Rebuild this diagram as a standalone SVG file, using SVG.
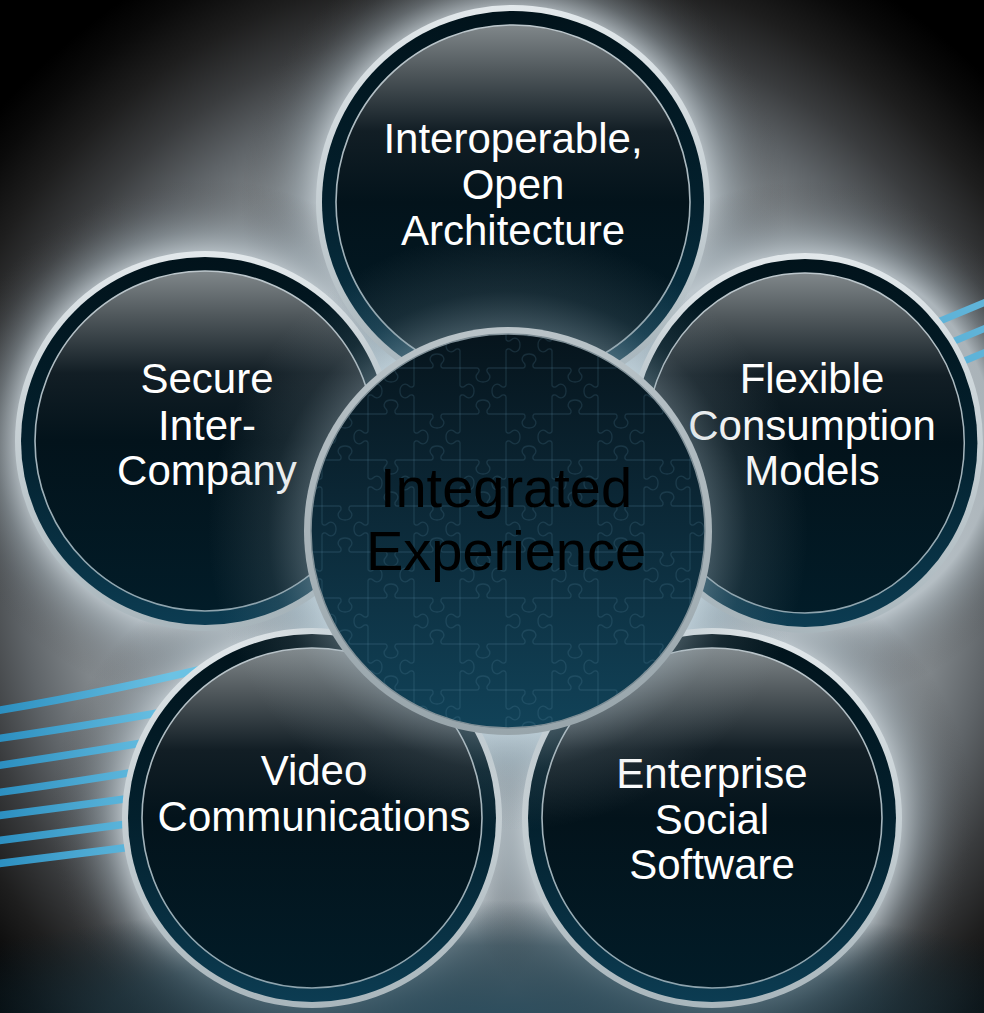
<svg xmlns="http://www.w3.org/2000/svg" width="984" height="1013" viewBox="0 0 984 1013">
<defs>
  <radialGradient id="bgGrad" gradientUnits="userSpaceOnUse" cx="508" cy="560" r="680">
    <stop offset="0" stop-color="#aab4ba"/>
    <stop offset="0.55" stop-color="#9aa2a8"/>
    <stop offset="0.64" stop-color="#80868a"/>
    <stop offset="0.72" stop-color="#5e6367"/>
    <stop offset="0.8" stop-color="#3a3c3e"/>
    <stop offset="0.88" stop-color="#1e1e1e"/>
    <stop offset="0.95" stop-color="#0a0a0a"/>
    <stop offset="1" stop-color="#000"/>
  </radialGradient>
  <radialGradient id="haloGrad" cx="0.5" cy="0.5" r="0.5">
    <stop offset="0.72" stop-color="#c0cad0" stop-opacity="0.8"/>
    <stop offset="0.8" stop-color="#9aa6ad" stop-opacity="0.45"/>
    <stop offset="0.9" stop-color="#6a7277" stop-opacity="0.18"/>
    <stop offset="1" stop-color="#444" stop-opacity="0"/>
  </radialGradient>
  <radialGradient id="cHalo" gradientUnits="userSpaceOnUse" cx="508" cy="531" r="300">
    <stop offset="0.66" stop-color="#cfe0e9" stop-opacity="0.9"/>
    <stop offset="0.76" stop-color="#a6bcc8" stop-opacity="0.55"/>
    <stop offset="0.88" stop-color="#8a9aa4" stop-opacity="0.2"/>
    <stop offset="1" stop-color="#8a9aa4" stop-opacity="0"/>
  </radialGradient>
  <radialGradient id="sheen" gradientUnits="userSpaceOnUse" cx="508" cy="531" r="300">
    <stop offset="0.66" stop-color="#a8bac4" stop-opacity="0.4"/>
    <stop offset="0.8" stop-color="#8e9ea6" stop-opacity="0.15"/>
    <stop offset="1" stop-color="#8e9ea6" stop-opacity="0"/>
  </radialGradient>
  <linearGradient id="ringGrad" x1="0" y1="0" x2="0" y2="1">
    <stop offset="0" stop-color="#e2e8eb"/>
    <stop offset="1" stop-color="#a9b6bc"/>
  </linearGradient>
  <linearGradient id="bandGrad" x1="0" y1="0" x2="0" y2="1">
    <stop offset="0" stop-color="#01131b"/>
    <stop offset="0.5" stop-color="#03202d"/>
    <stop offset="1" stop-color="#0c3c52"/>
  </linearGradient>
  <linearGradient id="lineGrad" x1="0" y1="0" x2="0" y2="1">
    <stop offset="0" stop-color="#bcc6cb"/>
    <stop offset="1" stop-color="#8ea4ae"/>
  </linearGradient>
  <linearGradient id="innerGrad" x1="0" y1="0" x2="0" y2="1">
    <stop offset="0" stop-color="#80878a"/>
    <stop offset="0.13" stop-color="#50585c"/>
    <stop offset="0.3" stop-color="#121e25"/>
    <stop offset="0.5" stop-color="#03131b"/>
    <stop offset="1" stop-color="#021c28"/>
  </linearGradient>
  <linearGradient id="cRingGrad" x1="0" y1="0" x2="0" y2="1">
    <stop offset="0" stop-color="#b9c3c8"/>
    <stop offset="1" stop-color="#98a5ab"/>
  </linearGradient>
  <linearGradient id="cInnerGrad" x1="0" y1="0" x2="0" y2="1">
    <stop offset="0" stop-color="#06141c"/>
    <stop offset="0.4" stop-color="#0b2634"/>
    <stop offset="1" stop-color="#114258"/>
  </linearGradient>
  <linearGradient id="stripeL" gradientUnits="userSpaceOnUse" x1="0" y1="0" x2="170" y2="0">
    <stop offset="0" stop-color="#2c8fc0"/>
    <stop offset="1" stop-color="#6cc2e4"/>
  </linearGradient>
  <radialGradient id="tealGrad" cx="0.5" cy="1" r="0.65">
    <stop offset="0" stop-color="#26495a" stop-opacity="0.9"/>
    <stop offset="0.6" stop-color="#1c3a48" stop-opacity="0.6"/>
    <stop offset="1" stop-color="#0d2530" stop-opacity="0"/>
  </radialGradient>
  <pattern id="puzzle" patternUnits="userSpaceOnUse" width="92" height="92" x="0" y="0">
    <g fill="none" stroke="#5a8ea6" stroke-opacity="0.2" stroke-width="1.3">
      <path d="M0,0 H17 C19,0 20,3 18,5 C14,9 17,14 23,14 C29,14 32,9 28,5 C26,3 27,0 29,0 H63 C65,0 66,-3 64,-5 C60,-9 63,-14 69,-14 C75,-14 78,-9 74,-5 C72,-3 73,0 75,0 H92"/>
      <path d="M0,46 H17 C19,46 20,43 18,41 C14,37 17,32 23,32 C29,32 32,37 28,41 C26,43 27,46 29,46 H63 C65,46 66,49 64,51 C60,55 63,60 69,60 C75,60 78,55 74,51 C72,49 73,46 75,46 H92"/>
      <path d="M0,92 H17 C19,92 20,95 18,97 C14,101 17,106 23,106 C29,106 32,101 28,97 C26,95 27,92 29,92 H63 C65,92 66,89 64,87 C60,83 63,78 69,78 C75,78 78,83 74,87 C72,89 73,92 75,92 H92"/>
      <path d="M0,0 V17 C0,19 3,20 5,18 C9,14 14,17 14,23 C14,29 9,32 5,28 C3,26 0,27 0,29 V63 C0,65 -3,66 -5,64 C-9,60 -14,63 -14,69 C-14,75 -9,78 -5,74 C-3,72 0,73 0,75 V92"/>
      <path d="M46,0 V17 C46,19 43,20 41,18 C37,14 32,17 32,23 C32,29 37,32 41,28 C43,26 46,27 46,29 V63 C46,65 49,66 51,64 C55,60 60,63 60,69 C60,75 55,78 51,74 C49,72 46,73 46,75 V92"/>
      <path d="M92,0 V17 C92,19 95,20 97,18 C101,14 106,17 106,23 C106,29 101,32 97,28 C95,26 92,27 92,29 V63 C92,65 89,66 87,64 C83,60 78,63 78,69 C78,75 83,78 87,74 C89,72 92,73 92,75 V92"/>
    </g>
  </pattern>
  <clipPath id="cClip"><circle cx="508" cy="531" r="197"/></clipPath>
</defs>
<style>
  .ring { fill: url(#ringGrad); }
  .band { fill: url(#bandGrad); }
  .line { fill: url(#innerGrad); stroke: url(#lineGrad); stroke-width: 1.6; }
  .halo { fill: url(#haloGrad); }
  .lbl { font-family: "Liberation Sans", Arial, Helvetica, sans-serif; font-size: 42px; fill: #ffffff; text-anchor: middle; }
  .clbl { font-family: "Liberation Sans", Arial, Helvetica, sans-serif; font-size: 56px; fill: #000000; text-anchor: middle; }
  .stL { fill: none; stroke: url(#stripeL); stroke-width: 7.5; }
  .stR { fill: none; stroke: #5fb3d8; stroke-width: 7; }
</style>

<g id="background">
  <rect x="0" y="0" width="984" height="1013" fill="#000"/>
  <rect x="0" y="0" width="984" height="1013" fill="url(#bgGrad)"/>
  <circle class="halo" cx="513" cy="202" r="272"/>
  <circle class="halo" cx="205" cy="441" r="262"/>
  <circle class="halo" cx="805" cy="443" r="262"/>
  <circle class="halo" cx="312" cy="818" r="262"/>
  <circle class="halo" cx="712" cy="818" r="262"/>
  <rect x="0" y="840" width="984" height="173" fill="url(#tealGrad)"/>
  <circle cx="508" cy="531" r="300" fill="url(#cHalo)"/>
  <g id="stripes-left">
    <path class="stL" d="M-5,711 Q110,692 240,660"/>
    <path class="stL" d="M-5,739 Q100,724 230,700"/>
    <path class="stL" d="M-5,766 Q90,752 220,730"/>
    <path class="stL" d="M-5,793 Q90,780 220,758"/>
    <path class="stL" d="M-5,816 Q90,804 220,786"/>
    <path class="stL" d="M-5,841 Q90,829 220,812"/>
    <path class="stL" d="M-5,864 Q90,852 220,836"/>
  </g>
  <g id="stripes-right">
    <path class="stR" d="M880,346 L1000,296"/>
    <path class="stR" d="M880,372 L1000,322"/>
    <path class="stR" d="M880,396 L1000,346"/>
  </g>
</g>

<g id="connectors"></g>

<g id="node-top">
  <circle class="ring" cx="513" cy="202" r="197"/>
  <circle class="band" cx="513" cy="202" r="191"/>
  <circle class="line" cx="513" cy="202" r="177"/>
  <text class="lbl" x="513" y="153">Interoperable,</text>
  <text class="lbl" x="513" y="199">Open</text>
  <text class="lbl" x="513" y="245">Architecture</text>
</g>

<g id="node-left">
  <circle class="ring" cx="205" cy="441" r="190"/>
  <circle class="band" cx="205" cy="441" r="184"/>
  <circle class="line" cx="205" cy="441" r="170"/>
  <text class="lbl" x="207" y="393">Secure</text>
  <text class="lbl" x="207" y="440">Inter-</text>
  <text class="lbl" x="207" y="485">Company</text>
</g>

<g id="node-right">
  <g transform="translate(805,443) scale(0.937,1)">
    <circle class="ring" cx="0" cy="0" r="190"/>
    <circle class="band" cx="0" cy="0" r="184"/>
    <circle class="line" cx="0" cy="0" r="170"/>
  </g>
  <text class="lbl" x="812" y="393">Flexible</text>
  <text class="lbl" x="812" y="440">Consumption</text>
  <text class="lbl" x="812" y="485">Models</text>
</g>

<g id="node-bottom-left">
  <circle class="ring" cx="312" cy="818" r="190"/>
  <circle class="band" cx="312" cy="818" r="184"/>
  <circle class="line" cx="312" cy="818" r="170"/>
  <text class="lbl" x="314" y="785">Video</text>
  <text class="lbl" x="314" y="831">Communications</text>
</g>

<g id="node-bottom-right">
  <circle class="ring" cx="712" cy="818" r="190"/>
  <circle class="band" cx="712" cy="818" r="184"/>
  <circle class="line" cx="712" cy="818" r="170"/>
  <text class="lbl" x="712" y="788">Enterprise</text>
  <text class="lbl" x="712" y="834">Social</text>
  <text class="lbl" x="712" y="879">Software</text>
</g>

<circle cx="508" cy="531" r="300" fill="url(#sheen)"/>

<g id="node-center">
  <circle cx="508" cy="531" r="204" fill="url(#cRingGrad)"/>
  <circle cx="508" cy="531" r="197" fill="url(#cInnerGrad)"/>
  <rect x="300" y="330" width="420" height="410" fill="url(#puzzle)" clip-path="url(#cClip)"/>
  <circle cx="508" cy="531" r="197" fill="none" stroke="#7e8e96" stroke-width="1.5"/>
  <text class="clbl" x="506" y="507">Integrated</text>
  <text class="clbl" x="506" y="570">Experience</text>
</g>
</svg>
